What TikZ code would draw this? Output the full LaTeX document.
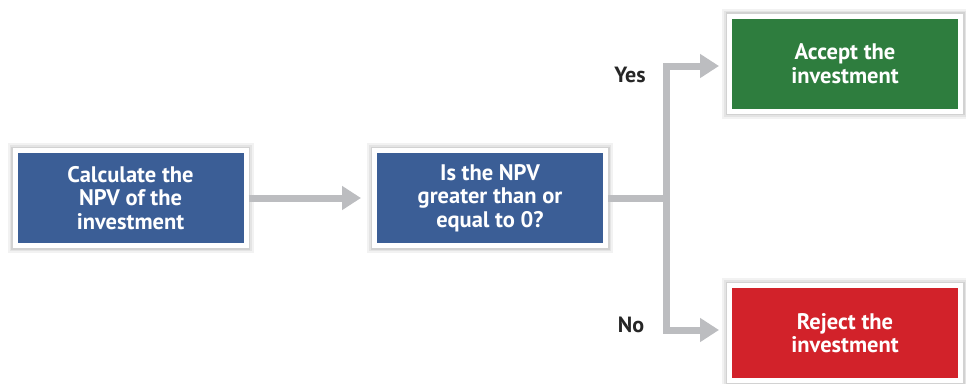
\documentclass[tikz,border=0pt]{standalone}
\usepackage{fontspec}
\setmainfont{PT Sans}
\usetikzlibrary{arrows.meta,calc}
\definecolor{bblue}{RGB}{59,94,150}
\definecolor{bgreen}{RGB}{46,125,62}
\definecolor{bred}{RGB}{210,34,42}
\definecolor{agray}{RGB}{188,189,192}
\tikzset{
  box/.style={draw=white, line width=5pt, minimum width=231pt, minimum height=95pt,
    text=white, align=center, font=\fontsize{22.5}{23.5}\selectfont\bfseries,
    preaction={draw=black, draw opacity=0.05, line width=15pt},
    preaction={draw=black, draw opacity=0.06, line width=11pt},
    preaction={draw=black, draw opacity=0.08, line width=8pt}},
  conn/.style={draw=agray, line width=7pt},
  arr/.style={draw=agray, line width=7pt, -{Triangle[length=19pt,width=23pt]}},
  lbl/.style={font=\fontsize{22}{22}\selectfont\bfseries, text=black!85}
}
\begin{document}
\begin{tikzpicture}[x=1pt,y=-1pt]
\useasboundingbox (0,0) rectangle (966,383);
\node[box, fill=bblue] (calc) at (130.5,198) {Calculate the\\NPV of the\\investment};
\node[box, fill=bblue] (ask) at (490,198) {Is the NPV\\greater than or\\equal to 0?};
\node[box, fill=bgreen] (acc) at (845,63.5) {Accept the\\investment};
\node[box, fill=bred] (rej) at (845,333) {Reject the\\investment};
\coordinate (j) at (666,198);
\coordinate (jy) at (666,66);
\coordinate (jn) at (666,330);
\draw[arr, shorten >=11pt] (calc.east) -- (ask.west);
\draw[conn] (ask.east) -- (j);
\draw[arr, line join=miter, shorten >=8pt] (j) -- (jy) -- (jy -| acc.west);
\draw[arr, line join=miter, shorten >=8pt] (j) -- (jn) -- (jn -| rej.west);
\node[lbl] (yes) at (630,75) {Yes};
\node[lbl] (no) at (631,325) {No};
\end{tikzpicture}
\end{document}
